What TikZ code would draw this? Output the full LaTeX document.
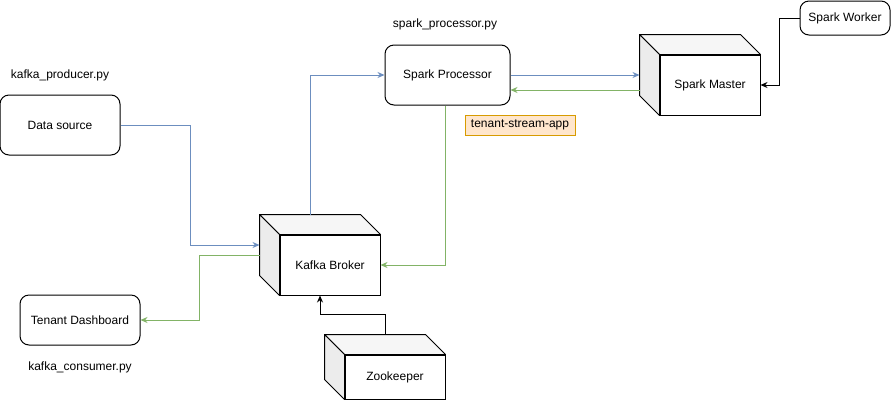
\documentclass[tikz,border=0pt]{standalone}
\usepackage{fontspec}
\setmainfont{Liberation Sans}
\usepackage{xcolor}
\usetikzlibrary{positioning,calc,arrows.meta}
\definecolor{lineblue}{HTML}{6C8EBF}
\definecolor{linegreen}{HTML}{82B366}
\definecolor{tagfill}{HTML}{FFE6CC}
\definecolor{tagdraw}{HTML}{D79B00}

\begin{document}
\begin{tikzpicture}[x=1pt,y=-1pt,
    font=\fontsize{12}{14}\selectfont,
    >={Stealth[length=7pt,width=6pt]},
    roundbox/.style={draw,line width=1pt,rounded corners=9pt,inner sep=0pt},
    front/.style={draw,fill=white,line width=1pt,inner sep=0pt,minimum width=100pt},
    bluearr/.style={->,color=lineblue,line width=1pt},
    greenarr/.style={->,color=linegreen,line width=1pt},
    blackarr/.style={->,color=black,line width=1pt}]

    \useasboundingbox (0,0) rectangle (891,400);

    % Rounded boxes
    \node[roundbox,minimum width=120pt,minimum height=60pt] (source) at (60,125) {Data source};
    \node[roundbox,minimum width=120pt,minimum height=50pt] (dash) at (80,320) {Tenant Dashboard};
    \node[roundbox,minimum width=125pt,minimum height=60pt] (proc) at (447.5,75) {Spark Processor};
    \node[roundbox,minimum width=90pt,minimum height=34pt] (worker) at (845,18) {Spark Worker};

    % File names
    \node (lprod) at (60,75) {kafka\_producer.py};
    \node (lproc) at (445,24) {spark\_processor.py};
    \node (lcons) at (80,367) {kafka\_consumer.py};

    % Tag
    \node[draw=tagdraw,fill=tagfill,line width=1pt,minimum width=110pt,minimum height=20pt,inner sep=0pt] (tag) at (520,125) {tenant-stream-app};

    % Cubes (front faces)
    \node[front,minimum height=60pt] (broker) at (330,265) {Kafka Broker};
    \node[front,minimum height=60pt] (master) at (710,85) {Spark Master};
    \node[front,minimum height=44pt] (zoo) at (395,377) {Zookeeper};

    % Depth of the cubes
    \foreach \c in {broker,master,zoo}
        {
        \filldraw[fill=gray!7,line width=1pt,line join=round] (\c.north west) -- ++(-20,-20) -- ($(\c.north east)+(-20,-20)$) -- (\c.north east) -- cycle;
        \filldraw[fill=gray!15,line width=1pt,line join=round] (\c.north west) -- ++(-20,-20) -- ($(\c.south west)+(-20,-20)$) -- (\c.south west) -- cycle;
        }

    \coordinate (bin) at ($(broker.west)+(-20,-20)$);
    \coordinate (bout) at ($(broker.west)+(-20,-10)$);
    \coordinate (btop) at ($(broker.north)+(-20,-20)$);
    \coordinate (min) at ($(master.west)+(-20,-10)$);
    \coordinate (mout) at ($(master.west)+(-20,5)$);
    \coordinate (ztop) at ($(zoo.north)+(-10,-20)$);

    % Connectors
    \draw[bluearr] (source.east) -- ++(70,0) |- (bin);
    \draw[greenarr] (bout) -- ++(-60,0) |- (dash.east);
    \draw[bluearr] (btop) |- (proc.west);
    \draw[bluearr] (proc.east) -- (min);
    \draw[greenarr] (mout) -- (mout -| proc.east);
    \draw[greenarr] ([xshift=-2.5pt]proc.south) |- (broker.east);
    \draw[blackarr] (worker.west) -- ++(-20,0) |- (master.east);
    \draw[blackarr] (ztop) -- ++(0,-20) -| ([xshift=-10pt]broker.south);

\end{tikzpicture}
\end{document}
